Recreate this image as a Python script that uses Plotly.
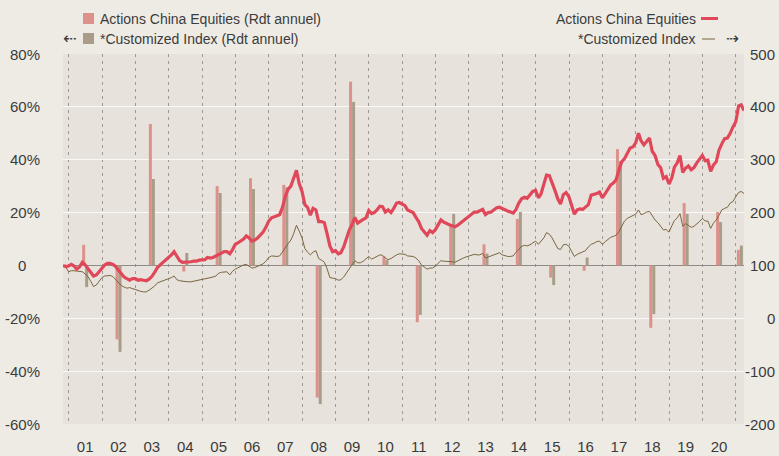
import pandas as pd
import plotly.graph_objects as go

# ---------------- data ----------------
months = pd.date_range("2000-10-31", "2021-03-31", freq="ME")

china_equities_index = [
    100, 98, 99,
    102, 99, 93, 97, 106, 101, 94, 86, 80, 82, 88, 94,
    101, 104, 104, 102, 98, 91, 84, 78, 75, 72, 75, 75,
    72, 73, 72, 71, 74, 79, 87, 96, 101, 106, 110, 114,
    120, 126, 116, 109, 106, 106, 106, 107, 108, 108, 110, 110,
    111, 115, 114, 115, 118, 120, 123, 126, 126, 122, 130, 140,
    143, 146, 150, 156, 152, 146, 148, 152, 157, 163, 172, 184,
    190, 192, 193, 196, 210, 230, 244, 250, 265, 280, 255, 240,
    215, 210, 195, 208, 205, 183, 183, 181, 160, 137, 126, 128,
    122, 124, 135, 150, 167, 177, 191, 180, 184, 187, 190, 204,
    198, 200, 205, 212, 211, 201, 205, 200, 208, 218, 219, 216,
    213, 205, 203, 200, 191, 183, 170, 163, 157, 166, 162, 168,
    176, 186, 182, 179, 177, 175, 173, 176, 180, 185, 189, 194,
    197, 201, 201, 203, 206, 196, 200, 201, 205, 209, 210, 207,
    205, 203, 201, 199, 206, 218, 226, 229, 227, 234, 240, 242,
    228, 235, 252, 271, 270, 258, 242, 226, 216, 234, 238, 230,
    210, 197, 205, 207, 206, 211, 215, 233, 234, 236, 239, 228,
    236, 244, 252, 256, 262, 280, 296, 302, 313, 322, 324, 332,
    350, 336, 328, 334, 341, 316, 308, 291, 285, 265, 268, 254,
    266, 286, 294, 308, 276, 284, 288, 281, 285, 294, 300, 308,
    298, 299, 278, 290, 296, 318, 330, 340, 341, 350, 362, 372,
    402, 404, 393,
]

customized_index = [
    100, 97, 88,
    90, 90, 89, 89, 88, 84, 79, 70, 60, 63, 70, 77,
    80, 81, 81, 79, 73, 66, 62, 59, 57, 58, 56, 54,
    53, 51, 50, 50, 53, 57, 61, 67, 69, 70, 72, 75,
    77, 80, 73, 71, 70, 70, 69, 69, 70, 72, 73, 74,
    75, 76, 77, 78, 80, 85, 87, 87, 88, 82, 89, 93,
    96, 99, 101, 102, 98, 95, 96, 98, 100, 103, 108, 115,
    118, 117, 117, 118, 127, 133, 141, 148, 160, 176, 165, 152,
    132, 125, 120, 125, 128, 113, 110, 106, 94, 77, 76, 75,
    72, 73, 78, 86, 94, 100, 109, 105, 105, 108, 112, 117,
    112, 114, 117, 120, 119, 114, 111, 113, 117, 120, 122, 122,
    121, 118, 118, 117, 114, 109, 101, 96, 93, 95, 95, 99,
    104, 109, 108, 108, 107, 107, 106, 109, 112, 114, 116, 118,
    119, 121, 120, 120, 123, 114, 116, 118, 121, 123, 124, 120,
    118, 117, 117, 118, 125, 130, 136, 138, 137, 139, 143, 146,
    140, 145, 152, 162, 159, 152, 142, 132, 130, 139, 140, 136,
    126, 117, 121, 123, 125, 128, 135, 140, 142, 145, 146, 140,
    145, 149, 153, 155, 157, 164, 174, 184, 189, 192, 195, 197,
    205, 196, 198, 201, 202, 193, 186, 181, 173, 167, 168, 163,
    175, 185, 190, 198, 174, 179, 176, 172, 174, 178, 183, 189,
    184, 184, 170, 180, 186, 195, 205, 208, 210, 218, 221, 230,
    238, 240, 236,
]

bar_dates = [f"{y}-07-01" for y in range(2001, 2021)] + ["2021-02-14"]
china_annual_pct = [7.8, -28, 53.5, -2.3, 30, 33, 30.5, -50, 69.5, 3.5, -21.5,
                    15.5, 8, 17.6, -4.6, -2, 44, -23.6, 23.6, 20.2, 5.9]
custom_annual_pct = [-8.2, -32.7, 32.7, 4.7, 27.4, 28.9, 29.6, -52.5, 61.9, 2, -18.7,
                     19.5, 4.5, 20.2, -7.4, 3, 39.5, -18.4, 19.5, 16.4, 7.5]

year_label_dates = [f"{y}-07-01" for y in range(2001, 2021)]
year_labels = [f"{y % 100:02d}" for y in range(2001, 2021)]
year_starts = [f"{y}-01-01" for y in range(2001, 2022)]

left_ticks = [-60, -40, -20, 0, 20, 40, 60, 80]
left_labels = ["-60%", "-40%", "-20%", "0", "20%", "40%", "60%", "80%"]
right_ticks = [-200, -100, 0, 100, 200, 300, 400, 500]

# ---------------- style ----------------
W, H = 779, 456
L, R, T, B = 63, 35, 54, 32
PW, PH = W - L - R, H - T - B
FONT = "Liberation Sans, Arial, sans-serif"
TXT = "#3b3b3b"
RED = "#E0485A"
PINK = "#DC918B"
BROWN_BAR = "#A99C89"
BROWN_LINE = "#7A6540"


def px(x):
    return (x - L) / PW


def py(y):
    return (H - B - y) / PH


bar_w = 3 / 33.36 * 365.25 * 86400000  # ~3px in ms

fig = go.Figure()
fig.add_trace(go.Bar(x=bar_dates, y=china_annual_pct, width=[bar_w] * len(bar_dates),
                     offset=[-bar_w] * len(bar_dates), marker=dict(color=PINK, line=dict(width=0)),
                     name="Actions China Equities (Rdt annuel)", yaxis="y"))
fig.add_trace(go.Bar(x=bar_dates, y=custom_annual_pct, width=[bar_w] * len(bar_dates),
                     offset=[0] * len(bar_dates), marker=dict(color=BROWN_BAR, line=dict(width=0)),
                     name="*Customized Index (Rdt annuel)", yaxis="y"))
fig.add_trace(go.Scatter(x=months, y=customized_index, mode="lines",
                         line=dict(color=BROWN_LINE, width=1), name="*Customized Index", yaxis="y2"))
fig.add_trace(go.Scatter(x=months, y=china_equities_index, mode="lines",
                         line=dict(color=RED, width=3.2), name="Actions China Equities", yaxis="y2"))

annotations = []
# left axis labels
for v, t in zip(left_ticks, left_labels):
    annotations.append(dict(x=px(42 if t != "0" else 28), xref="paper", xanchor="right",
                            y=v, yref="y", yanchor="middle", text=t, showarrow=False,
                            font=dict(family=FONT, size=15, color=TXT)))
# right axis labels
for v in right_ticks:
    annotations.append(dict(x=px(777), xref="paper", xanchor="right",
                            y=v, yref="y2", yanchor="middle", text=str(v), showarrow=False,
                            font=dict(family=FONT, size=15, color=TXT)))
# legends
lf = dict(family=FONT, size=14, color=TXT)
af = dict(family="DejaVu Sans", size=16, color=TXT)
annotations += [
    dict(x=px(98), y=py(19), xref="paper", yref="paper", xanchor="left", yanchor="middle",
         text="Actions China Equities (Rdt annuel)", showarrow=False, font=lf),
    dict(x=px(98), y=py(39), xref="paper", yref="paper", xanchor="left", yanchor="middle",
         text="*Customized Index (Rdt annuel)", showarrow=False, font=lf),
    dict(x=px(61), y=py(39), xref="paper", yref="paper", xanchor="left", yanchor="middle",
         text="⇠", showarrow=False, font=af),
    dict(x=px(698), y=py(19), xref="paper", yref="paper", xanchor="right", yanchor="middle",
         text="Actions China Equities", showarrow=False, font=lf),
    dict(x=px(698), y=py(39), xref="paper", yref="paper", xanchor="right", yanchor="middle",
         text="*Customized Index", showarrow=False, font=lf),
    dict(x=px(724), y=py(39), xref="paper", yref="paper", xanchor="left", yanchor="middle",
         text="⇢", showarrow=False, font=af),
]

shapes = [
    dict(type="rect", xref="paper", yref="paper", x0=px(83), x1=px(94), y0=py(24), y1=py(13),
         fillcolor=PINK, line=dict(width=0)),
    dict(type="rect", xref="paper", yref="paper", x0=px(83), x1=px(94), y0=py(44), y1=py(33),
         fillcolor=BROWN_BAR, line=dict(width=0)),
    dict(type="line", xref="paper", yref="paper", x0=px(701), x1=px(718), y0=py(18.5), y1=py(18.5),
         line=dict(color=RED, width=3)),
    dict(type="line", xref="paper", yref="paper", x0=px(702), x1=px(715), y0=py(39), y1=py(39),
         line=dict(color=BROWN_LINE, width=1)),
]

fig.update_layout(
    width=W, height=H,
    autosize=False,
    margin=dict(l=L, r=R, t=T, b=B, pad=0, autoexpand=False),
    paper_bgcolor="#EEEBE5",
    plot_bgcolor="#E7E3DC",
    showlegend=False,
    barmode="overlay",
    font=dict(family=FONT, size=15, color=TXT),
    xaxis=dict(
        type="date", automargin=False,
        range=[months[0], months[-1]],
        tickmode="array", tickvals=year_label_dates, ticktext=year_labels,
        showgrid=False, zeroline=False, showline=False, ticks="",
        ticklabelstandoff=12,
        tickfont=dict(family=FONT, size=15, color=TXT),
        minor=dict(tickmode="array", tickvals=year_starts, showgrid=True,
                   gridcolor="#9d9891", griddash="3px,4px", gridwidth=1, ticks=""),
    ),
    yaxis=dict(
        automargin=False,
        range=[-60, 80], tickmode="array", tickvals=left_ticks, showticklabels=False,
        showgrid=True, gridcolor="#FAF9F6", gridwidth=1,
        zeroline=True, zerolinecolor="#8E8A85", zerolinewidth=1, showline=False, ticks="",
    ),
    yaxis2=dict(
        automargin=False,
        range=[-200, 500], overlaying="y", side="right", showticklabels=False,
        showgrid=False, zeroline=False, showline=False, ticks="",
    ),
    annotations=annotations,
    shapes=shapes,
)

fig.write_html(
    "out.html",
    config={"displayModeBar": False, "responsive": False},
    post_script="document.body.style.margin='0';document.body.style.padding='0';"
                "document.body.style.background='#EEEBE5';",
)
